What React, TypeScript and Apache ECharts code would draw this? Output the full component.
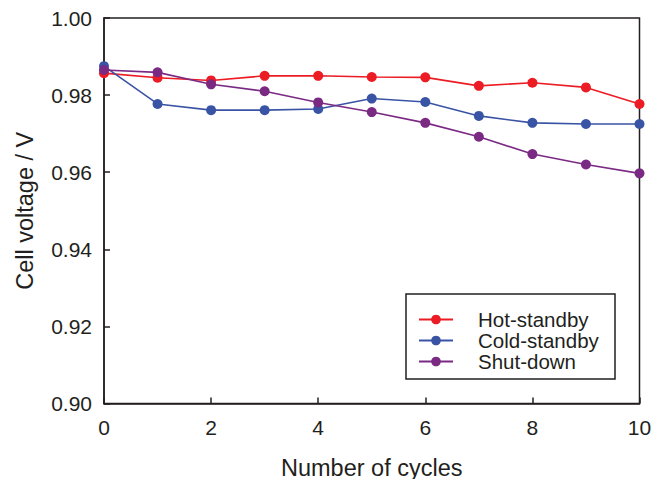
import React, { useEffect, useRef } from "react";
import * as echarts from "echarts";

const cycles = [0, 1, 2, 3, 4, 5, 6, 7, 8, 9, 10];
const hotStandby = [0.9857, 0.9845, 0.9838, 0.985, 0.985, 0.9847, 0.9846, 0.9824, 0.9832, 0.982, 0.9777];
const coldStandby = [0.9875, 0.9777, 0.9761, 0.9761, 0.9764, 0.9791, 0.9782, 0.9746, 0.9728, 0.9725, 0.9725];
const shutDown = [0.9865, 0.9859, 0.9828, 0.981, 0.9781, 0.9756, 0.9728, 0.9692, 0.9647, 0.962, 0.9597];
const seriesNames = ["Hot-standby", "Cold-standby", "Shut-down"];
const colors = ["#ec1c24", "#3a54a5", "#7b2a84"];

const FONT = "'Liberation Sans', Arial, Helvetica, sans-serif";
const TXT = "#231f20";

export default function App() {
  const ref = useRef<HTMLDivElement>(null);
  useEffect(() => {
    if (!ref.current) return;
    const chart = echarts.init(ref.current, undefined, { renderer: "svg" });
    const datasets = [hotStandby, coldStandby, shutDown];
    chart.setOption({
      animation: false,
      backgroundColor: "#ffffff",
      textStyle: { fontFamily: FONT },
      grid: {
        left: 104,
        right: 14.5,
        top: 18,
        bottom: 75.5,
        containLabel: false,
        outerBoundsMode: "none",
        show: true,
        borderColor: "#231f20",
        borderWidth: 1.5,
        backgroundColor: "transparent",
      },
      graphic: [
        {
          type: "rect",
          shape: { x: 406, y: 294, width: 209, height: 85 },
          style: { fill: "#ffffff", stroke: "#231f20", lineWidth: 1.5 },
          z: 10,
        },
      ],
      legend: {
        orient: "vertical",
        left: 418,
        top: 309,
        itemWidth: 34,
        itemHeight: 12,
        itemGap: 0,
        padding: 0,
        z: 20,
        data: seriesNames,
        textStyle: {
          fontFamily: FONT,
          fontSize: 20.5,
          lineHeight: 18,
          color: TXT,
          padding: [0, 0, 0, 20],
        },
      },
      xAxis: {
        type: "value",
        min: 0,
        max: 10,
        interval: 2,
        name: "Number of cycles",
        nameLocation: "middle",
        nameGap: 52,
        nameTextStyle: { fontFamily: FONT, fontSize: 23.5, color: TXT },
        axisLine: { show: true, lineStyle: { color: "#231f20", width: 1.5 } },
        axisTick: { show: true, inside: true, length: 6, lineStyle: { color: "#231f20", width: 1.5 } },
        axisLabel: { fontFamily: FONT, fontSize: 21, color: TXT, margin: 13 },
        splitLine: { show: false },
      },
      yAxis: {
        type: "value",
        min: 0.9,
        max: 1.0,
        interval: 0.02,
        name: "Cell voltage / V",
        nameLocation: "middle",
        nameGap: 67,
        nameRotate: 90,
        nameTextStyle: { fontFamily: FONT, fontSize: 23.5, color: TXT },
        axisLine: { show: true, lineStyle: { color: "#231f20", width: 1.5 } },
        axisTick: { show: true, inside: true, length: 6, lineStyle: { color: "#231f20", width: 1.5 } },
        axisLabel: {
          fontFamily: FONT,
          fontSize: 21,
          color: TXT,
          margin: 12,
          formatter: (v: number) => v.toFixed(2),
        },
        splitLine: { show: false },
      },
      series: seriesNames.map((name, i) => ({
        name,
        type: "line",
        data: cycles.map((c, j) => [c, datasets[i][j]]),
        symbol: "circle",
        symbolSize: 10,
        showSymbol: true,
        clip: false,
        itemStyle: { color: colors[i] },
        lineStyle: { color: colors[i], width: 1.6 },
        z: 3 + (i === 2 ? 1 : 0),
      })),
    });
    return () => chart.dispose();
  }, []);
  return (
    <div
      ref={ref}
      style={{ position: "fixed", left: 0, top: 0, width: 654, height: 479 }}
    />
  );
}
